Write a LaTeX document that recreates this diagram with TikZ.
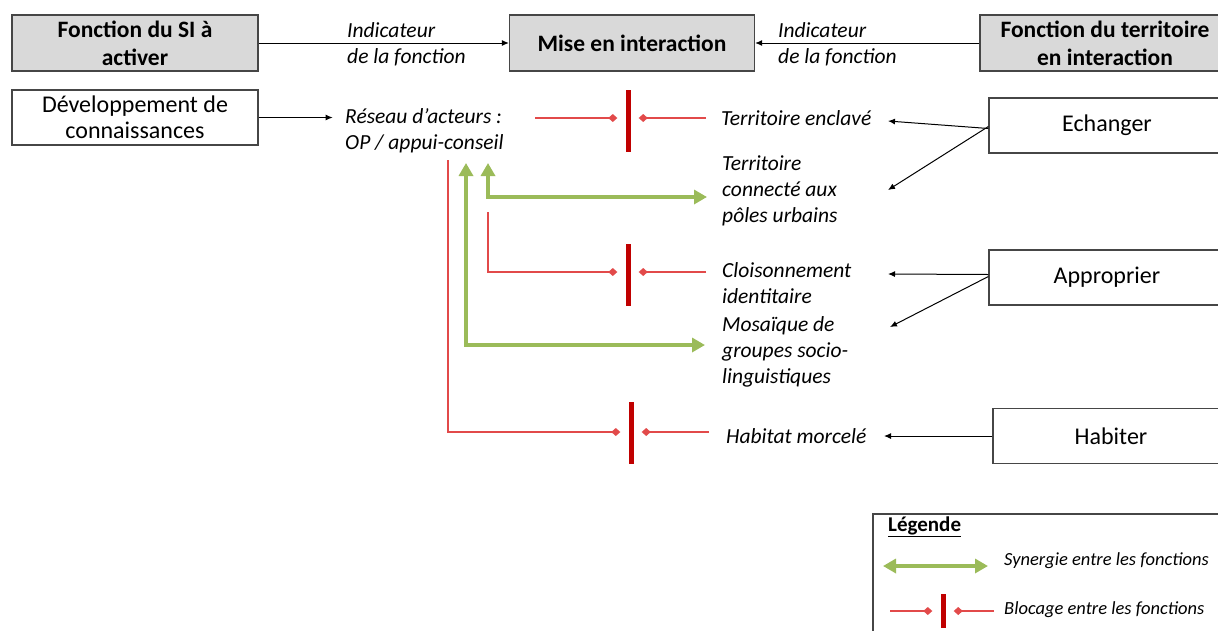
\documentclass[tikz,border=0pt]{standalone}
\usepackage{fontspec}
\setmainfont{Carlito}
\usepackage{tikz}
\usetikzlibrary{arrows.meta, positioning, calc}
\definecolor{mygray}{RGB}{217,217,217}
\definecolor{myborder}{RGB}{70,70,70}
\definecolor{mygreen}{RGB}{155,187,89}
\definecolor{myred}{RGB}{192,0,0}
\definecolor{mylightred}{RGB}{226,74,74}
\tikzset{
  hdrblock/.style={rectangle, draw=myborder, fill=mygray, line width=1.3pt,
    minimum width=246pt, minimum height=56pt, align=center, inner sep=0pt,
    font=\fontsize{23.5}{28}\selectfont\bfseries},
  fnblock/.style={rectangle, draw=myborder, fill=white, line width=1.3pt,
    minimum width=236pt, minimum height=55pt, align=center,
    font=\fontsize{24}{26}\selectfont},
  lbl/.style={anchor=west, inner sep=0pt, align=left,
    font=\fontsize{21.5}{26}\selectfont\itshape},
  arrow/.style={-{Latex[length=7pt,width=6pt]}, line width=1pt, color=black},
  synarrow/.style={{Triangle[length=13pt,width=14pt]}-{Triangle[length=13pt,width=14pt]},
    line width=4pt, color=mygreen},
  blocline/.style={-{Diamond[length=9pt,width=8pt]}, line width=1.2pt, color=mylightred},
  barre/.style={rectangle, fill=myred, inner sep=0pt, minimum width=5pt, minimum height=62pt}
}

\begin{document}
\begin{tikzpicture}[x=1pt, y=-1pt]
  \useasboundingbox (0,0) rectangle (1218,630);

  % Header row
  \node[hdrblock] (fsi) at (135,43) {Fonction du SI à\\activer};
  \node[hdrblock, minimum width=245pt] (mise) at (632,43) {Mise en interaction};
  \node[hdrblock, minimum width=250pt] (fterr) at (1105,43) {Fonction du territoire\\en interaction};
  \draw[arrow] (fsi.east) -- (mise.west);
  \draw[arrow] (fterr.west) -- (mise.east);
  \node[lbl] (ind1) at (347,44) {Indicateur\\de la fonction};
  \node[lbl] (ind2) at (778,44) {Indicateur\\de la fonction};

  % SI function
  \node[hdrblock, fill=white, font=\fontsize{24}{26}\selectfont, minimum height=55pt] (dev) at (135,117.5) {Développement de\\connaissances};
  \node[lbl] (reseau) at (345,131) {Réseau d’acteurs :\\OP / appui-conseil};
  \draw[arrow] (dev.east) -- ++(74,0);

  % Territory functions
  \node[fnblock] (echanger) at (1107,125.5) {Echanger};
  \node[fnblock] (appro) at (1107,277.5) {Approprier};
  \node[fnblock] (habiter) at (1111,436) {Habiter};

  % Indicators of the territory
  \node[lbl] (enclave) at (721,118) {Territoire enclavé};
  \node[lbl] (connecte) at (722,191) {Territoire\\connecté aux\\pôles urbains};
  \node[lbl] (cloison) at (722,283) {Cloisonnement\\identitaire};
  \node[lbl] (mosaique) at (722,352) {Mosaïque de\\groupes socio-\\linguistiques};
  \node[lbl] (habitat) at (726,436) {Habitat morcelé};

  \coordinate (e1) at (888,121);
  \coordinate (e2) at (888,190);
  \coordinate (a1) at (888,274);
  \coordinate (a2) at (890,327);
  \coordinate (h1) at (884,436);
  \draw[arrow] ([yshift=-3pt]echanger.west) -- (e1);
  \draw[arrow] ([yshift=-1pt]echanger.west) -- (e2);
  \draw[arrow] ([yshift=3pt]appro.west) -- (a1);
  \draw[arrow] ([yshift=1pt]appro.west) -- (a2);
  \draw[arrow] (habiter.west) -- (h1);

  % Blocages
  \node[barre] (b1) at (628,121) {};
  \node[barre] (b2) at (628,275) {};
  \node[barre] (b3) at (631,433) {};
  \draw[blocline] (535,118) -- ([xshift=-8pt]b1.west |- 0,118);
  \draw[blocline] (706,118) -- ([xshift=8pt]b1.east |- 0,118);
  \draw[blocline] (488,212) |- ([xshift=-8pt]b2.west |- 0,272);
  \draw[blocline] (706,272) -- ([xshift=8pt]b2.east |- 0,272);
  \draw[blocline] (448,160) |- ([xshift=-8pt]b3.west |- 0,432);
  \draw[blocline] (709,432) -- ([xshift=8pt]b3.east |- 0,432);

  % Synergies
  \draw[synarrow] (707,197) -| (488,163);
  \draw[synarrow] (705,345) -| (466,163);

  % Legend
  \draw[line width=1.3pt, color=myborder] (873,640) -- (873,514) -- (1230,514);
  \node[anchor=west, inner sep=0pt, font=\fontsize{21}{24}\selectfont\bfseries] (leg) at (888,527) {\underline{Légende}};
  \draw[synarrow] (883,566) -- (988,566);
  \node[lbl, font=\fontsize{18.5}{22}\selectfont\itshape] (lsyn) at (1004,561) {Synergie entre les fonctions};
  \node[barre, minimum height=34pt] (lb) at (943,611) {};
  \draw[blocline] (890,611) -- ([xshift=-8pt]lb.west);
  \draw[blocline] (994,611) -- ([xshift=8pt]lb.east);
  \node[lbl, font=\fontsize{18.5}{22}\selectfont\itshape] (lbloc) at (1004,610) {Blocage entre les fonctions};
\end{tikzpicture}
\end{document}
